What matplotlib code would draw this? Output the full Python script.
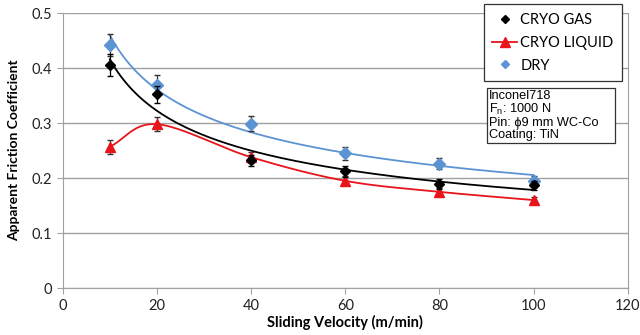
import numpy as np
import matplotlib
matplotlib.use("Agg")
import matplotlib.pyplot as plt
from matplotlib.patches import Rectangle

velocity = [10, 20, 40, 60, 80, 100]
cryo_gas = [0.405, 0.352, 0.232, 0.212, 0.190, 0.187]
cryo_gas_err = [0.020, 0.016, 0.010, 0.010, 0.009, 0.008]
cryo_liquid = [0.257, 0.298, 0.238, 0.195, 0.175, 0.160]
cryo_liquid_err = [0.013, 0.013, 0.010, 0.008, 0.007, 0.006]
dry = [0.442, 0.370, 0.299, 0.245, 0.226, 0.195]
dry_err = [0.020, 0.018, 0.013, 0.012, 0.010, 0.008]

plt.rcParams['font.family'] = ['Lato', 'DejaVu Sans']

fig = plt.figure(figsize=(6.4, 3.35), dpi=100)
ax = fig.add_axes([0.098, 0.140, 0.883, 0.821])

x = np.array(velocity, float)
xs = np.linspace(10, 100, 300)

def power_fit(xv, yv):
    b, a = np.polyfit(np.log(xv), np.log(yv), 1)
    return np.exp(a) * xs ** b

def catmull(xv, yv, n=60):
    xv = np.asarray(xv, float); yv = np.asarray(yv, float)
    px = np.concatenate([[2*xv[0]-xv[1]], xv, [2*xv[-1]-xv[-2]]])
    py = np.concatenate([[2*yv[0]-yv[1]], yv, [2*yv[-1]-yv[-2]]])
    ox, oy = [], []
    t = np.linspace(0, 1, n)
    for i in range(1, len(px)-2):
        p0x, p1x, p2x, p3x = px[i-1:i+3]
        p0y, p1y, p2y, p3y = py[i-1:i+3]
        m1x, m2x = (p2x-p0x)/6, (p3x-p1x)/6
        m1y, m2y = (p2y-p0y)/6, (p3y-p1y)/6
        c1x, c1y = p1x+m1x, p1y+m1y
        c2x, c2y = p2x-m2x, p2y-m2y
        bx = (1-t)**3*p1x + 3*(1-t)**2*t*c1x + 3*(1-t)*t**2*c2x + t**3*p2x
        by = (1-t)**3*p1y + 3*(1-t)**2*t*c1y + 3*(1-t)*t**2*c2y + t**3*p2y
        ox.extend(bx); oy.extend(by)
    return np.array(ox), np.array(oy)

c_gas = 'black'
c_liq = '#e8131b'
c_dry = '#5b93d3'

ax.plot(xs, power_fit(x, np.array(dry)), color=c_dry, lw=1.3, zorder=2)
ax.plot(xs, power_fit(x, np.array(cryo_gas)), color=c_gas, lw=1.3, zorder=2)
lx, ly = catmull(x, cryo_liquid)
ax.plot(lx, ly, color=c_liq, lw=1.3, zorder=2)

ax.errorbar(x, dry, yerr=dry_err, fmt='D', color=c_dry, ms=6, ecolor='#333333',
            elinewidth=0.9, capsize=2.5, zorder=3)
ax.errorbar(x, cryo_gas, yerr=cryo_gas_err, fmt='D', color=c_gas, ms=5.5, ecolor='black',
            elinewidth=0.9, capsize=2.5, zorder=4)
ax.errorbar(x, cryo_liquid, yerr=cryo_liquid_err, fmt='^', color=c_liq, ms=7, ecolor='#333333',
            elinewidth=0.9, capsize=2.5, zorder=3)

h_gas, = ax.plot([], [], 'D', color=c_gas, ms=4.5)
h_liq, = ax.plot([], [], '-^', color=c_liq, ms=7, lw=1.3)
h_dry, = ax.plot([], [], 'D', color=c_dry, ms=4.5)
leg = ax.legend([h_gas, h_liq, h_dry], ['CRYO GAS', 'CRYO LIQUID', 'DRY'],
                loc='upper left', bbox_to_anchor=(0.745, 1.032), fancybox=False,
                edgecolor='#333333', fontsize=10.5, handlelength=1.7, borderpad=0.6,
                labelspacing=0.6, handletextpad=0.2, framealpha=1, borderaxespad=0)
leg.get_frame().set_linewidth(0.9)

ax.add_patch(Rectangle((0.750, 0.528), 0.227, 0.199, transform=ax.transAxes,
                       fc='white', ec='#333333', lw=0.9, zorder=5, clip_on=False))
ax.text(0.754, 0.722, 'Inconel718\n$\\mathregular{F_n}$: 1000 N\nPin: ϕ9 mm WC-Co\nCoating: TiN',
        transform=ax.transAxes, fontsize=9.2, va='top', ha='left', linespacing=1.0,
        family=['Liberation Sans', 'DejaVu Sans'], zorder=6)

ax.set_xlim(0, 120)
ax.set_ylim(0, 0.5)
ax.set_xticks(np.arange(0, 121, 20))
ax.set_yticks(np.arange(0, 0.51, 0.1))
ax.set_yticklabels(['0', '0.1', '0.2', '0.3', '0.4', '0.5'])
ax.yaxis.grid(True, color='#a0a0a0', lw=1)
ax.set_axisbelow(True)
for s in ax.spines.values():
    s.set_color('#a0a0a0')
ax.spines['top'].set_visible(False)
ax.tick_params(colors='#a0a0a0', labelcolor='#222222', labelsize=10.5, length=4, direction='out')
ax.set_xlabel('Sliding Velocity (m/min)', fontsize=10.5, fontweight='bold', labelpad=2)
ax.set_ylabel('Apparent Friction Coefficient', fontsize=10, fontweight='bold', labelpad=8)

fig.savefig('out.png', dpi=100)
